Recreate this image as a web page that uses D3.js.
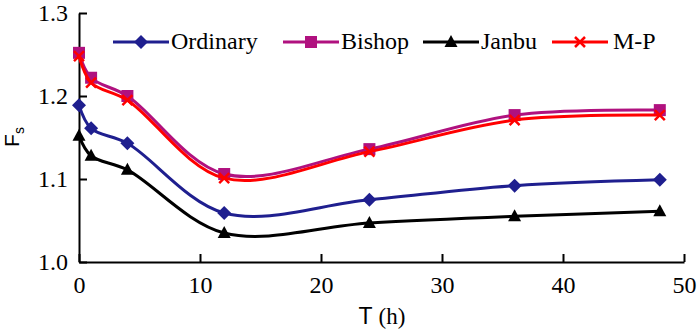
<!DOCTYPE html>
<meta charset="utf-8">
<body style="margin:0;background:#fff">
<style>
  svg text.serif, svg tspan.serif { font-family: "Liberation Serif", "Times New Roman", serif !important; }
  svg text.sans, svg tspan.sans { font-family: "Liberation Sans", Arial, sans-serif !important; }
</style>
<svg width="700" height="333"></svg>
<script src="https://d3js.org/d3.v7.min.js"></script>
<script>

// time points (h)
var hours = [0, 1, 4, 12, 24, 36, 48];

// safety factor per method
var ordinary = [1.189, 1.161, 1.143, 1.059, 1.075, 1.092, 1.099];
var bishop   = [1.252, 1.222, 1.200, 1.106, 1.136, 1.177, 1.183];
var janbu    = [1.152, 1.128, 1.111, 1.035, 1.047, 1.055, 1.061];
var mp       = [1.248, 1.216, 1.195, 1.101, 1.133, 1.171, 1.177];

var xTicks = [0, 10, 20, 30, 40, 50];
var yTicks = [1.0, 1.1, 1.2, 1.3];

var series = [
  {name: "Ordinary", values: ordinary, color: "#1f1f8f", shape: "diamond"},
  {name: "Bishop",   values: bishop,   color: "#b0117f", shape: "square"},
  {name: "Janbu",    values: janbu,    color: "#000000", shape: "triangle"},
  {name: "M-P",      values: mp,       color: "#ff0000", shape: "cross"}
];

var svg = d3.select("svg");

var x = d3.scaleLinear().domain([0, 50]).range([79, 684]);
var y = d3.scaleLinear().domain([1.0, 1.3]).range([262, 13]);

// axes, ticks pointing inward
var xAxis = svg.append("g")
    .attr("transform", "translate(0,262)")
    .call(d3.axisBottom(x).tickValues(xTicks).tickFormat(d3.format("d"))
      .tickSizeInner(-8).tickSizeOuter(0).tickPadding(14));
xAxis.attr("font-family", "Liberation Serif").attr("font-size", 24);
xAxis.select(".domain").attr("stroke-width", 2);
xAxis.selectAll(".tick line").attr("stroke-width", 2);
xAxis.selectAll(".tick text").attr("dy", "0.71em").attr("class", "serif")
    .style("font-family", "'Liberation Serif'", "important");

var yAxis = svg.append("g")
    .attr("transform", "translate(79,0)")
    .call(d3.axisLeft(y).tickValues(yTicks).tickFormat(d3.format(".1f"))
      .tickSizeInner(-8).tickSizeOuter(0).tickPadding(11));
yAxis.attr("font-family", "Liberation Serif").attr("font-size", 24);
yAxis.select(".domain").attr("stroke-width", 2);
yAxis.selectAll(".tick line").attr("stroke-width", 2);
yAxis.selectAll(".tick text").attr("class", "serif")
    .style("font-family", "'Liberation Serif'", "important");

// axis titles
var fs = svg.append("text")
    .attr("class", "sans")
    .attr("transform", "translate(19,137) rotate(-90)")
    .attr("text-anchor", "middle")
    .attr("font-size", 21);
fs.append("tspan").text("F");
fs.append("tspan").attr("dy", 5).attr("font-size", 14).text("s");

var tl = svg.append("text")
    .attr("x", 382).attr("y", 324)
    .attr("text-anchor", "middle")
    .attr("font-size", 23);
tl.append("tspan").attr("class", "sans").text("T ");
tl.append("tspan").attr("class", "serif").attr("font-family", "Liberation Serif")
    .style("font-family", "'Liberation Serif'", "important").text("(h)");

var line = d3.line()
    .x(function(d, i) { return x(hours[i]); })
    .y(function(d) { return y(d); })
    .curve(d3.curveCatmullRom.alpha(0.5));

function marker(g, shape, color) {
  if (shape == "diamond") {
    g.append("path").attr("d", "M0,-7L7,0L0,7L-7,0Z").attr("fill", color);
  } else if (shape == "square") {
    g.append("rect").attr("x", -6).attr("y", -6).attr("width", 12).attr("height", 12).attr("fill", color);
  } else if (shape == "triangle") {
    g.append("path").attr("d", "M0,-7L6.5,5L-6.5,5Z").attr("fill", color);
  } else {
    g.append("path").attr("d", "M-5,-5L5,5M-5,5L5,-5")
      .attr("stroke", color).attr("stroke-width", 2.5).attr("fill", "none");
  }
}

series.forEach(function(s) {
  svg.append("path")
    .datum(s.values)
    .attr("d", line)
    .attr("fill", "none")
    .attr("stroke", s.color)
    .attr("stroke-width", 3);
  s.values.forEach(function(v, i) {
    var g = svg.append("g").attr("transform", "translate(" + x(hours[i]) + "," + y(v) + ")");
    marker(g, s.shape, s.color);
  });
});

// legend
var legendX = [113, 283, 423, 552];
var legend = svg.append("g");
series.forEach(function(s, i) {
  var g = legend.append("g").attr("transform", "translate(" + legendX[i] + ",42)");
  g.append("line").attr("x1", 0).attr("x2", 56).attr("stroke", s.color).attr("stroke-width", 3);
  marker(g.append("g").attr("transform", "translate(28,0)"), s.shape, s.color);
  g.append("text").attr("class", "serif")
    .attr("x", s.name == "M-P" ? 61 : 58).attr("y", 7)
    .attr("font-family", "Liberation Serif").attr("font-size", 24)
    .style("font-family", "'Liberation Serif'", "important")
    .text(s.name);
});

</script>
</body>
